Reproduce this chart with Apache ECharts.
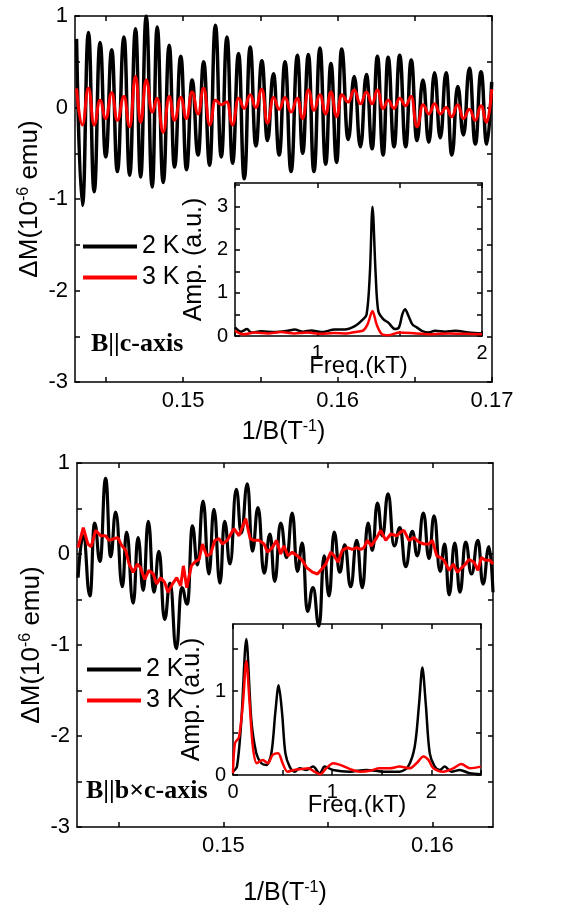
<!DOCTYPE html>
<html lang="en">
<head>
  <meta charset="UTF-8">
  <title>dHvA oscillations</title>
  <style>
    * { margin: 0; padding: 0; box-sizing: border-box; }
    body { background: #fff; }
    #chart { width: 570px; height: 911px; }
  </style>
</head>
<body>
  <div id="chart"></div>
</body>
<script src="https://cdn.jsdelivr.net/npm/echarts@6/dist/echarts.min.js"></script>
<script>
  // ---- top panel (B || c-axis), extrema of the oscillations, 1/B in T^-1 ----
  const topX = [0.14310, 0.14348, 0.14387, 0.14424, 0.14462, 0.14499, 0.14538, 0.14574, 0.14617, 0.14654,
    0.14692, 0.14725, 0.14761, 0.14800, 0.14832, 0.14871, 0.14910, 0.14944, 0.14985, 0.15022,
    0.15058, 0.15097, 0.15133, 0.15172, 0.15209, 0.15247, 0.15284, 0.15320, 0.15359, 0.15396,
    0.15434, 0.15471, 0.15510, 0.15546, 0.15585, 0.15622, 0.15660, 0.15699, 0.15740, 0.15774,
    0.15811, 0.15847, 0.15886, 0.15923, 0.15957, 0.15994, 0.16026, 0.16069, 0.16108, 0.16148,
    0.16187, 0.16224, 0.16258, 0.16295, 0.16327, 0.16366, 0.16402, 0.16441, 0.16477, 0.16514,
    0.16553, 0.16591, 0.16628, 0.16665, 0.16703, 0.16740, 0.16778, 0.16815, 0.16854, 0.16892,
    0.16929, 0.16966, 0.16998]
  const top2K = [0.75, -1.07, 0.82, -0.92, 0.71, -0.54, 0.63, -0.70, 0.77, -0.74,
    0.86, -0.76, 1.00, -0.87, 0.88, -0.82, 0.68, -0.65, 0.56, -0.68,
    0.30, -0.52, 0.50, -0.63, 0.90, -0.54, 0.77, -0.61, 0.59, -0.78,
    0.66, -0.42, 0.51, -0.36, 0.37, -0.52, 0.50, -0.70, 0.57, -0.50,
    0.58, -0.70, 0.65, -0.62, 0.48, -0.60, 0.64, -0.35, 0.34, -0.43,
    0.36, -0.45, 0.56, -0.52, 0.55, -0.43, 0.57, -0.43, 0.52, -0.36,
    0.30, -0.38, 0.38, -0.33, 0.38, -0.52, 0.23, -0.30, 0.43, -0.40,
    0.39, -0.40, 0.28]
  const top3K = [0.21, -0.19, 0.21, -0.19, 0.08, -0.12, 0.16, -0.14, 0.12, -0.21,
    0.34, -0.16, 0.30, -0.05, 0.10, -0.27, 0.12, -0.14, 0.11, -0.12,
    0.17, -0.07, 0.21, -0.19, 0.08, 0.03, 0.06, -0.19, 0.10, -0.01,
    0.14, 0.00, 0.20, -0.17, 0.11, -0.02, 0.11, -0.05, 0.10, -0.12,
    0.19, -0.03, 0.14, -0.07, 0.17, -0.10, 0.14, 0.06, 0.19, 0.04,
    0.17, 0.04, 0.19, -0.01, 0.08, -0.01, 0.10, 0.02, 0.12, -0.21,
    0.03, -0.07, 0.04, -0.07, 0.00, -0.10, 0.03, -0.12, -0.02, -0.14,
    0.02, -0.16, 0.20]

  // top inset FFT (kT, a.u.)
  const fftTopX2K = [0.5, 0.537, 0.573, 0.598, 0.659, 0.740, 0.821, 0.862, 0.913, 0.963, 1.024, 1.106, 1.167,
    1.228, 1.268, 1.299, 1.319, 1.335, 1.354, 1.370, 1.400, 1.431, 1.472, 1.496, 1.516, 1.533, 1.553,
    1.577, 1.604, 1.634, 1.675, 1.715, 1.776, 1.837, 1.919, 2.0]
  const fftTop2K = [0.20, 0.10, 0.16, 0.08, 0.11, 0.09, 0.12, 0.15, 0.10, 0.13, 0.09, 0.15, 0.15,
    0.23, 0.35, 0.50, 1.45, 3.0, 1.45, 0.58, 0.39, 0.31, 0.16, 0.20, 0.50, 0.62, 0.47,
    0.27, 0.20, 0.12, 0.08, 0.12, 0.10, 0.12, 0.08, 0.06]
  const fftTopX3K = [0.5, 0.55, 0.62, 0.70, 0.78, 0.86, 0.94, 1.02, 1.10, 1.18, 1.24, 1.28, 1.305, 1.335,
    1.36, 1.39, 1.43, 1.5, 1.6, 1.7, 1.8, 1.9, 2.0]
  const fftTop3K = [0.12, 0.04, 0.08, 0.06, 0.09, 0.06, 0.08, 0.05, 0.07, 0.06, 0.10, 0.13, 0.27, 0.58,
    0.27, 0.05, 0.02, 0.08, 0.06, 0.04, 0.06, 0.05, 0.04]

  // ---- bottom panel (B || b x c-axis) ----
  const botX2K = [0.14305, 0.14330, 0.14362, 0.14384, 0.14410, 0.14437, 0.14461, 0.14485, 0.14517, 0.14537,
    0.14569, 0.14592, 0.14617, 0.14641, 0.14668, 0.14692, 0.14719, 0.14745, 0.14775, 0.14801,
    0.14828, 0.14852, 0.14876, 0.14903, 0.14931, 0.14955, 0.14984, 0.15006, 0.15032, 0.15062,
    0.15086, 0.15115, 0.15139, 0.15166, 0.15195, 0.15223, 0.15246, 0.15274, 0.15303, 0.15330,
    0.15354, 0.15378, 0.15402, 0.15429, 0.15458, 0.15482, 0.15506, 0.15530, 0.15557, 0.15581,
    0.15609, 0.15638, 0.15665, 0.15692, 0.15713, 0.15737, 0.15761, 0.15788, 0.15817, 0.15845,
    0.15872, 0.15904, 0.15928, 0.15957, 0.15984, 0.16008, 0.16037, 0.16059, 0.16080, 0.16107,
    0.16132, 0.16159, 0.16187, 0.16218, 0.16242, 0.16271, 0.16290]
  const bot2K = [-0.26, 0.20, -0.46, 0.34, -0.08, 0.83, -0.03, 0.46, -0.36, 0.24,
    -0.54, 0.18, -0.40, 0.36, -0.42, 0.03, -0.72, -0.32, -1.04, -0.37,
    -0.55, 0.31, -0.12, 0.58, -0.22, 0.49, -0.32, 0.36, -0.11, 0.71,
    0.23, 0.77, 0.03, 0.51, -0.21, 0.22, -0.30, 0.34, -0.04, 0.45,
    -0.19, 0.12, -0.63, -0.37, -0.79, -0.02, -0.46, 0.24, -0.20, 0.10,
    -0.36, 0.15, -0.37, 0.34, 0.04, 0.56, 0.20, 0.66, 0.09, 0.29,
    -0.14, 0.25, -0.02, 0.45, -0.05, 0.42, -0.19, 0.11, -0.45, 0.12,
    -0.42, 0.13, -0.22, 0.15, -0.33, 0.08, -0.42]
  const botX3K = [0.14305, 0.14330, 0.14352, 0.14368, 0.14389, 0.14413, 0.14437, 0.14453, 0.14480, 0.14496,
    0.14512, 0.14533, 0.14549, 0.14569, 0.14589, 0.14604, 0.14624, 0.14644, 0.14665, 0.14681,
    0.14700, 0.14719, 0.14735, 0.14756, 0.14777, 0.14796, 0.14809, 0.14825, 0.14847, 0.14868,
    0.14884, 0.14900, 0.14920, 0.14939, 0.14959, 0.14979, 0.14995, 0.15019, 0.15051, 0.15075,
    0.15107, 0.15128, 0.15147, 0.15171, 0.15195, 0.15211, 0.15234, 0.15255, 0.15274, 0.15290,
    0.15309, 0.15330, 0.15354, 0.15378, 0.15399, 0.15426, 0.15450, 0.15469, 0.15490, 0.15514,
    0.15530, 0.15549, 0.15569, 0.15593, 0.15617, 0.15638, 0.15657, 0.15673, 0.15689, 0.15708,
    0.15734, 0.15753, 0.15777, 0.15801, 0.15829, 0.15848, 0.15864, 0.15888, 0.15912, 0.15936,
    0.15960, 0.15984, 0.16000, 0.16021, 0.16040, 0.16056, 0.16080, 0.16100, 0.16120, 0.16136,
    0.16159, 0.16175, 0.16199, 0.16218, 0.16234, 0.16255, 0.16276, 0.16290]
  const bot3K = [0.07, 0.29, 0.11, 0.08, 0.26, 0.20, 0.20, 0.15, 0.17, 0.18,
    0.10, 0.04, -0.11, -0.20, -0.11, -0.15, -0.28, -0.18, -0.22, -0.33,
    -0.26, -0.31, -0.42, -0.33, -0.26, -0.35, -0.13, -0.37, -0.13, -0.08,
    -0.06, 0.11, -0.02, 0.00, 0.15, 0.17, 0.11, 0.15, 0.28, 0.20,
    0.39, 0.17, 0.15, 0.15, 0.11, 0.02, 0.07, 0.15, 0.00, 0.09,
    -0.02, 0.02, -0.02, -0.07, -0.15, -0.20, -0.22, -0.17, -0.11, 0.02,
    -0.02, -0.09, 0.04, 0.07, 0.05, 0.07, 0.05, 0.07, 0.15, 0.09,
    0.18, 0.26, 0.15, 0.22, 0.20, 0.24, 0.26, 0.15, 0.18, 0.13,
    0.11, 0.11, 0.15, -0.02, -0.04, -0.07, -0.18, -0.11, -0.20, -0.16,
    -0.11, -0.06, -0.09, -0.18, -0.04, -0.07, -0.07, -0.11]

  // bottom inset FFT
  const fftBotX2K = [0, 0.04, 0.084, 0.134, 0.185, 0.235, 0.286, 0.336, 0.387, 0.427, 0.46, 0.494, 0.528,
    0.571, 0.622, 0.672, 0.739, 0.807, 0.874, 0.924, 1.008, 1.176, 1.345, 1.513, 1.681, 1.765,
    1.832, 1.876, 1.909, 1.943, 1.983, 2.034, 2.084, 2.134, 2.202, 2.286, 2.387, 2.497]
  const fftBot2K = [0.04, 0.10, 0.65, 1.62, 0.65, 0.26, 0.14, 0.12, 0.26, 0.75, 1.07, 0.75, 0.26,
    0.10, 0.04, 0.08, 0.06, 0.10, 0.02, 0.10, 0.06, 0.04, 0.06, 0.04, 0.04, 0.10,
    0.34, 0.85, 1.28, 0.85, 0.26, 0.10, 0.06, 0.10, 0.04, 0.06, 0.02, 0.01]
  const fftBotX3K = [0, 0.02, 0.06, 0.10, 0.134, 0.168, 0.20, 0.24, 0.30, 0.35, 0.40, 0.455, 0.50, 0.55,
    0.62, 0.69, 0.76, 0.82, 0.88, 0.94, 1.01, 1.08, 1.18, 1.28, 1.38, 1.48, 1.58, 1.68, 1.78,
    1.85, 1.92, 1.97, 2.02, 2.12, 2.22, 2.30, 2.39, 2.497]
  const fftBot3K = [0.02, 0.38, 0.45, 0.85, 1.36, 0.85, 0.34, 0.14, 0.18, 0.14, 0.24, 0.26, 0.14, 0.04,
    0.06, 0.07, 0.08, 0.04, 0.01, 0.08, 0.14, 0.12, 0.07, 0.04, 0.05, 0.08, 0.08, 0.10, 0.08,
    0.14, 0.22, 0.18, 0.08, 0.04, 0.08, 0.13, 0.08, 0.10]

  // tick / label positions
  const topTicks = [0.145, 0.15, 0.155, 0.16, 0.165, 0.17]
  const topLabels = [0.15, 0.16, 0.17]
  const botTicks = [0.145, 0.15, 0.155, 0.16]
  const botLabels = [0.15, 0.16]
  const mainYTicks = [-3, -2.5, -2, -1.5, -1, -0.5, 0, 0.5, 1]
  const mainYLabels = [-3, -2, -1, 0, 1]
  const legendNames = ['2 K', '3 K']

  const FONT = 'Liberation Sans'
  const zip = (xs, ys) => xs.map((x, i) => [x, ys[i]])

  function nameStyle(size) {
    return { color: '#000', fontSize: size, fontFamily: FONT, lineHeight: size + 2,
      rich: { sup: { fontSize: Math.round(size * 0.62), fontFamily: FONT, color: '#000', verticalAlign: 'top', lineHeight: size + 2 } } }
  }

  function xAxis(grid, min, max, ticks, labels, pos, opt) {
    const o = opt || {}
    return {
      type: 'value', gridIndex: grid, min: min, max: max, position: pos,
      z: o.z || 0,
      axisLine: { show: true, onZero: false, lineStyle: { color: '#000', width: 1.5 } },
      axisTick: { show: true, inside: true, length: 5, customValues: ticks, lineStyle: { color: '#000', width: 1.5 } },
      axisLabel: { show: pos === 'bottom', customValues: labels, color: '#000', fontSize: o.fs || 22, fontFamily: FONT, margin: o.margin || 8 },
      splitLine: { show: false },
      name: pos === 'bottom' ? o.name : '',
      nameLocation: 'middle', nameGap: o.gap, nameMoveOverlap: false,
      nameTextStyle: nameStyle(o.nfs || 25)
    }
  }

  function yAxis(grid, min, max, ticks, labels, pos, opt) {
    const o = opt || {}
    return {
      type: 'value', gridIndex: grid, min: min, max: max, position: pos,
      z: o.z || 0,
      axisLine: { show: true, onZero: false, lineStyle: { color: '#000', width: 1.5 } },
      axisTick: { show: true, inside: true, length: 5, customValues: ticks, lineStyle: { color: '#000', width: 1.5 } },
      axisLabel: { show: pos === 'left', customValues: labels, color: '#000', fontSize: o.fs || 22, fontFamily: FONT, margin: o.margin || 7 },
      splitLine: { show: false },
      name: pos === 'left' ? o.name : '',
      nameLocation: 'middle', nameGap: o.gap, nameMoveOverlap: false,
      nameTextStyle: nameStyle(o.nfs || 26)
    }
  }

  function line(name, xi, yi, data, color, width, extra) {
    return Object.assign({
      type: 'line', name: name, xAxisIndex: xi, yAxisIndex: yi, data: data,
      showSymbol: false, symbol: 'none', clip: true,
      lineStyle: { color: color, width: width }, itemStyle: { color: color }
    }, extra || {})
  }

  const chart = echarts.init(document.getElementById('chart'), null, { renderer: 'canvas' })

  const yName = 'ΔM(10{sup|-6} emu)'
  const xName = '1/B(T{sup|-1})'
  const insetGrid = { show: true, backgroundColor: '#fff', borderWidth: 0, z: 3 }
  const legendStyle = { orient: 'vertical', data: legendNames, icon: 'rect', itemWidth: 54, itemHeight: 4,
    itemGap: 6, padding: 0, selectedMode: false,
    textStyle: { fontSize: 25, fontFamily: FONT, color: '#000', lineHeight: 25 } }

  chart.setOption({
    animation: false,
    backgroundColor: '#fff',
    grid: [
      { left: 75, top: 16, width: 417, height: 366 },
      Object.assign({ left: 235, top: 183, width: 247, height: 153 }, insetGrid),
      { left: 77, top: 463, width: 416, height: 364 },
      Object.assign({ left: 233, top: 624, width: 248, height: 151 }, insetGrid)
    ],
    xAxis: [
      xAxis(0, 0.143, 0.17, topTicks, topLabels, 'bottom', { name: xName, gap: 37 }),
      xAxis(0, 0.143, 0.17, topTicks, topLabels, 'top'),
      xAxis(1, 0.5, 2.0, [0.5, 1, 1.5, 2], [1, 2], 'bottom', { z: 4, fs: 20, nfs: 24, margin: 7, name: 'Freq.(kT)', gap: 17 }),
      xAxis(1, 0.5, 2.0, [0.5, 1, 1.5, 2], [1, 2], 'top', { z: 4 }),
      xAxis(2, 0.143, 0.1629, botTicks, botLabels, 'bottom', { name: xName, gap: 53 }),
      xAxis(2, 0.143, 0.1629, botTicks, botLabels, 'top'),
      xAxis(3, 0, 2.5, [0, 0.5, 1, 1.5, 2, 2.5], [0, 1, 2], 'bottom', { z: 4, fs: 20, nfs: 24, margin: 7, name: 'Freq.(kT)', gap: 17 }),
      xAxis(3, 0, 2.5, [0, 0.5, 1, 1.5, 2, 2.5], [0, 1, 2], 'top', { z: 4 })
    ],
    yAxis: [
      yAxis(0, -3, 1, mainYTicks, mainYLabels, 'left', { name: yName, gap: 31 }),
      yAxis(0, -3, 1, mainYTicks, mainYLabels, 'right'),
      yAxis(1, 0, 3.55, [0, 0.5, 1, 1.5, 2, 2.5, 3, 3.5], [0, 1, 2, 3], 'left', { z: 4, fs: 20, nfs: 25, name: 'Amp. (a.u.)', gap: 27 }),
      yAxis(1, 0, 3.55, [0, 0.5, 1, 1.5, 2, 2.5, 3, 3.5], [0, 1, 2, 3], 'right', { z: 4 }),
      yAxis(2, -3, 1, mainYTicks, mainYLabels, 'left', { name: yName, gap: 31 }),
      yAxis(2, -3, 1, mainYTicks, mainYLabels, 'right'),
      yAxis(3, 0, 1.8, [0, 0.5, 1, 1.5], [0, 1], 'left', { z: 4, fs: 20, nfs: 25, name: 'Amp. (a.u.)', gap: 27 }),
      yAxis(3, 0, 1.8, [0, 0.5, 1, 1.5], [0, 1], 'right', { z: 4 })
    ],
    legend: [
      Object.assign({ left: 83, top: 234 }, legendStyle),
      Object.assign({ left: 87, top: 657 }, legendStyle)
    ],
    graphic: [
      { type: 'text', left: 91, top: 331, style: { text: 'B||c-axis', font: 'bold 26px "Liberation Serif"', fill: '#000' } },
      { type: 'text', left: 86, top: 778, style: { text: 'B||b×c-axis', font: 'bold 26px "Liberation Serif"', fill: '#000' } }
    ],
    series: [
      line('2 K', 0, 0, zip(topX, top2K), '#000', 3.5, { smooth: 0.5, smoothMonotone: 'x' }),
      line('3 K', 0, 0, zip(topX, top3K), '#ff0000', 3, { smooth: 0.5, smoothMonotone: 'x' }),
      line('2 K', 2, 2, zip(fftTopX2K, fftTop2K), '#000', 2.5, { smooth: 0.3, z: 5 }),
      line('3 K', 2, 2, zip(fftTopX3K, fftTop3K), '#ff0000', 2.5, { smooth: 0.3, z: 5 }),
      line('2 K', 4, 4, zip(botX2K, bot2K), '#000', 3.2, { smooth: 0.5, smoothMonotone: 'x' }),
      line('3 K', 4, 4, zip(botX3K, bot3K), '#ff0000', 3),
      line('2 K', 6, 6, zip(fftBotX2K, fftBot2K), '#000', 2.5, { smooth: 0.3, z: 5 }),
      line('3 K', 6, 6, zip(fftBotX3K, fftBot3K), '#ff0000', 2.5, { smooth: 0.3, z: 5 })
    ]
  })
</script>
</html>
